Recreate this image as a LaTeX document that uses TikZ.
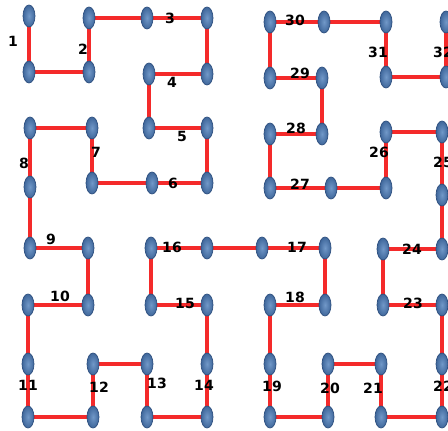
\documentclass[tikz,border=0pt]{standalone}
\usepackage{fontspec}
\setsansfont{DejaVu Sans}
\usetikzlibrary{shapes.geometric,backgrounds}
\definecolor{dotblue}{HTML}{3F679B}
\definecolor{dotlight}{HTML}{7198C8}
\definecolor{dotedge}{HTML}{2C4E7E}
\definecolor{pathred}{HTML}{F42A2A}
\tikzset{
  dotnode/.style={ellipse, draw=dotedge, line width=0.4pt, inner color=dotlight, outer color=dotblue, minimum width=0.24cm, minimum height=0.44cm, inner sep=0pt},
  numlabel/.style={font=\sffamily\bfseries\fontsize{8}{9}\selectfont, text=black, inner sep=0pt},
  hilbline/.style={draw=pathred, line width=2pt, line join=round}
}

\begin{document}
\begin{tikzpicture}[x=0.02cm, y=-0.02cm]
  \useasboundingbox (0,0) rectangle (448,431);
  % upper left quarter
  \node[dotnode] (p1a) at (29,16) {};
  \node[dotnode] (p1b) at (29,72) {};
  \node[dotnode] (p2a) at (89,72) {};
  \node[dotnode] (p2b) at (89,18) {};
  \node[dotnode] (p3a) at (147,18) {};
  \node[dotnode] (p3b) at (207,18) {};
  \node[dotnode] (p4a) at (207,74) {};
  \node[dotnode] (p4b) at (149,74) {};
  \node[dotnode] (p5a) at (149,128) {};
  \node[dotnode] (p5b) at (207,128) {};
  \node[dotnode] (p6a) at (207,183) {};
  \node[dotnode] (p6b) at (152,183) {};
  \node[dotnode] (p7a) at (92,183) {};
  \node[dotnode] (p7b) at (92,128) {};
  \node[dotnode] (p8a) at (30,128) {};
  \node[dotnode] (p8b) at (30,187) {};
  % lower left quarter
  \node[dotnode] (p9a) at (30,248) {};
  \node[dotnode] (p9b) at (88,248) {};
  \node[dotnode] (p10a) at (88,305) {};
  \node[dotnode] (p10b) at (28,305) {};
  \node[dotnode] (p11a) at (28,364) {};
  \node[dotnode] (p11b) at (28,417) {};
  \node[dotnode] (p12a) at (93,417) {};
  \node[dotnode] (p12b) at (93,364) {};
  \node[dotnode] (p13a) at (147,364) {};
  \node[dotnode] (p13b) at (147,417) {};
  \node[dotnode] (p14a) at (207,417) {};
  \node[dotnode] (p14b) at (207,364) {};
  \node[dotnode] (p15a) at (207,305) {};
  \node[dotnode] (p15b) at (151,305) {};
  \node[dotnode] (p16a) at (151,248) {};
  \node[dotnode] (p16b) at (207,248) {};
  % lower right quarter
  \node[dotnode] (p17a) at (262,248) {};
  \node[dotnode] (p17b) at (325,248) {};
  \node[dotnode] (p18a) at (325,305) {};
  \node[dotnode] (p18b) at (270,305) {};
  \node[dotnode] (p19a) at (270,364) {};
  \node[dotnode] (p19b) at (270,417) {};
  \node[dotnode] (p20a) at (328,417) {};
  \node[dotnode] (p20b) at (328,364) {};
  \node[dotnode] (p21a) at (381,364) {};
  \node[dotnode] (p21b) at (381,417) {};
  \node[dotnode] (p22a) at (442,417) {};
  \node[dotnode] (p22b) at (442,364) {};
  \node[dotnode] (p23a) at (442,305) {};
  \node[dotnode] (p23b) at (383,305) {};
  \node[dotnode] (p24a) at (383,249) {};
  \node[dotnode] (p24b) at (442,249) {};
  % upper right quarter
  \node[dotnode] (p25a) at (442,195) {};
  \node[dotnode] (p25b) at (442,132) {};
  \node[dotnode] (p26a) at (386,132) {};
  \node[dotnode] (p26b) at (386,188) {};
  \node[dotnode] (p27a) at (331,188) {};
  \node[dotnode] (p27b) at (270,188) {};
  \node[dotnode] (p28a) at (270,134) {};
  \node[dotnode] (p28b) at (322,134) {};
  \node[dotnode] (p29a) at (322,78) {};
  \node[dotnode] (p29b) at (270,78) {};
  \node[dotnode] (p30a) at (270,22) {};
  \node[dotnode] (p30b) at (324,22) {};
  \node[dotnode] (p31a) at (386,22) {};
  \node[dotnode] (p31b) at (386,77) {};
  \node[dotnode] (p32a) at (446,77) {};
  \node[dotnode] (p32b) at (446,22) {};
  % the curve, behind the dots
  \begin{scope}[on background layer]
    \draw[hilbline] (p1a.center) -- (p1b.center) -- (p2a.center) -- (p2b.center)
      -- (p3a.center) -- (p3b.center) -- (p4a.center) -- (p4b.center)
      -- (p5a.center) -- (p5b.center) -- (p6a.center) -- (p6b.center)
      -- (p7a.center) -- (p7b.center) -- (p8a.center) -- (p8b.center)
      -- (p9a.center) -- (p9b.center) -- (p10a.center) -- (p10b.center)
      -- (p11a.center) -- (p11b.center) -- (p12a.center) -- (p12b.center)
      -- (p13a.center) -- (p13b.center) -- (p14a.center) -- (p14b.center)
      -- (p15a.center) -- (p15b.center) -- (p16a.center) -- (p16b.center)
      -- (p17a.center) -- (p17b.center) -- (p18a.center) -- (p18b.center)
      -- (p19a.center) -- (p19b.center) -- (p20a.center) -- (p20b.center)
      -- (p21a.center) -- (p21b.center) -- (p22a.center) -- (p22b.center)
      -- (p23a.center) -- (p23b.center) -- (p24a.center) -- (p24b.center)
      -- (p25a.center) -- (p25b.center) -- (p26a.center) -- (p26b.center)
      -- (p27a.center) -- (p27b.center) -- (p28a.center) -- (p28b.center)
      -- (p29a.center) -- (p29b.center) -- (p30a.center) -- (p30b.center)
      -- (p31a.center) -- (p31b.center) -- (p32a.center) -- (p32b.center);
  \end{scope}
  % numbers
  \node[numlabel] (n1) at (13,41) {1};
  \node[numlabel] (n2) at (83,49) {2};
  \node[numlabel] (n3) at (170,18) {3};
  \node[numlabel] (n4) at (172,82) {4};
  \node[numlabel] (n5) at (182,136) {5};
  \node[numlabel] (n6) at (173,183) {6};
  \node[numlabel] (n7) at (96,152) {7};
  \node[numlabel] (n8) at (24,163) {8};
  \node[numlabel] (n9) at (51,239) {9};
  \node[numlabel] (n10) at (60,296) {10};
  \node[numlabel] (n11) at (28,385) {11};
  \node[numlabel] (n12) at (99,387) {12};
  \node[numlabel] (n13) at (157,383) {13};
  \node[numlabel] (n14) at (204,385) {14};
  \node[numlabel] (n15) at (185,303) {15};
  \node[numlabel] (n16) at (172,247) {16};
  \node[numlabel] (n17) at (297,247) {17};
  \node[numlabel] (n18) at (295,297) {18};
  \node[numlabel] (n19) at (272,386) {19};
  \node[numlabel] (n20) at (330,388) {20};
  \node[numlabel] (n21) at (373,388) {21};
  \node[numlabel] (n22) at (443,386) {22};
  \node[numlabel] (n23) at (413,303) {23};
  \node[numlabel] (n24) at (412,249) {24};
  \node[numlabel] (n25) at (443,162) {25};
  \node[numlabel] (n26) at (379,152) {26};
  \node[numlabel] (n27) at (300,184) {27};
  \node[numlabel] (n28) at (296,128) {28};
  \node[numlabel] (n29) at (300,73) {29};
  \node[numlabel] (n30) at (295,20) {30};
  \node[numlabel] (n31) at (378,52) {31};
  \node[numlabel] (n32) at (443,52) {32};
\end{tikzpicture}
\end{document}
